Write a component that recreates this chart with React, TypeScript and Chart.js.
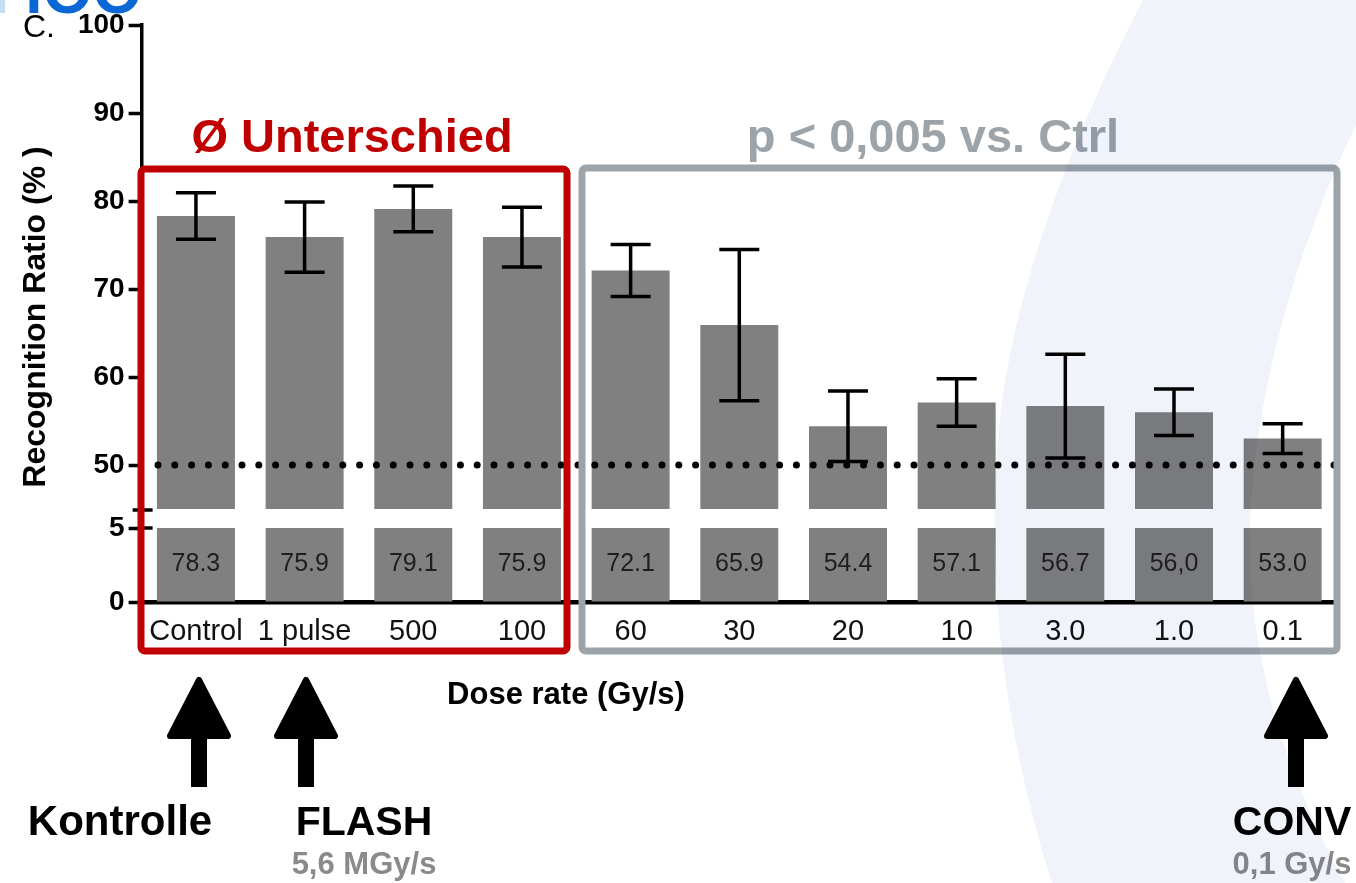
import React, { useEffect, useRef } from 'react';
import { Chart, registerables } from 'chart.js';

Chart.register(...registerables);

// ---------- data ----------
const CATEGORIES = ['Control', '1 pulse', '500', '100', '60', '30', '20', '10', '3.0', '1.0', '0.1'];
const MEANS = [78.3, 75.9, 79.1, 75.9, 72.1, 65.9, 54.4, 57.1, 56.7, 56.0, 53.0];
const SEM = [2.65, 4.0, 2.6, 3.4, 2.95, 8.6, 4.0, 2.7, 5.9, 2.65, 1.7];
const VALUE_LABELS = ['78.3', '75.9', '79.1', '75.9', '72.1', '65.9', '54.4', '57.1', '56.7', '56,0', '53.0'];
const TOP_TICKS = [50, 60, 70, 80, 90, 100];
const BOTTOM_TICKS = [0, 5];
const UPPER_BAR_BASE = 45;
const UPPER_AXIS_MIN = 42.84;
const UPPER_AXIS_MAX = 100;
const LOWER_AXIS_MAX = 5;
const CHANCE_LEVEL = 50;

const FONT = '"Liberation Sans", Arial, Helvetica, sans-serif';

function drawArrow(ctx: CanvasRenderingContext2D, cx: number) {
  ctx.save();
  ctx.fillStyle = '#000';
  ctx.strokeStyle = '#000';
  ctx.lineJoin = 'round';
  ctx.lineWidth = 6;
  ctx.beginPath();
  ctx.moveTo(cx, 680);
  ctx.lineTo(cx + 29, 736);
  ctx.lineTo(cx - 29, 736);
  ctx.closePath();
  ctx.fill();
  ctx.stroke();
  ctx.fillRect(cx - 8, 734, 16, 53);
  ctx.restore();
}

function drawText(
  ctx: CanvasRenderingContext2D,
  s: string,
  x: number,
  y: number,
  font: string,
  color: string,
  align: CanvasTextAlign = 'left'
) {
  ctx.font = font;
  ctx.fillStyle = color;
  ctx.textAlign = align;
  ctx.textBaseline = 'alphabetic';
  ctx.fillText(s, x, y);
}

const overlayPlugin = {
  id: 'overlay',
  afterDatasetsDraw(chart: any) {
    const ctx: CanvasRenderingContext2D = chart.ctx;
    const yTop = chart.scales.yTop;
    const yBot = chart.scales.yBot;
    const meta = chart.getDatasetMeta(0);

    // dotted chance line
    ctx.save();
    ctx.strokeStyle = '#000';
    ctx.lineWidth = 7;
    ctx.lineCap = 'round';
    ctx.setLineDash([0, 16.8]);
    const y50 = yTop.getPixelForValue(CHANCE_LEVEL);
    ctx.beginPath();
    ctx.moveTo(158, y50);
    ctx.lineTo(1345, y50);
    ctx.stroke();
    ctx.restore();

    // error bars
    ctx.save();
    ctx.strokeStyle = '#000';
    ctx.lineWidth = 3.5;
    ctx.lineCap = 'butt';
    MEANS.forEach((m, i) => {
      const x = meta.data[i].x;
      const yh = yTop.getPixelForValue(m + SEM[i]);
      const yl = yTop.getPixelForValue(m - SEM[i]);
      ctx.beginPath();
      ctx.moveTo(x, yh);
      ctx.lineTo(x, yl);
      ctx.moveTo(x - 20, yh);
      ctx.lineTo(x + 20, yh);
      ctx.moveTo(x - 20, yl);
      ctx.lineTo(x + 20, yl);
      ctx.stroke();
    });
    ctx.restore();

    // value labels in lower segment
    ctx.save();
    ctx.font = `25px ${FONT}`;
    ctx.fillStyle = '#1e1e1e';
    ctx.textAlign = 'center';
    ctx.textBaseline = 'middle';
    const yMid = yBot.getPixelForValue(LOWER_AXIS_MAX / 2) - 1;
    VALUE_LABELS.forEach((t, i) => {
      ctx.fillText(t, meta.data[i].x, yMid);
    });
    ctx.restore();
  },
  afterDraw(chart: any) {
    const ctx: CanvasRenderingContext2D = chart.ctx;
    const yTop = chart.scales.yTop;
    const yBot = chart.scales.yBot;
    const axisX = chart.chartArea.left;

    ctx.save();
    // axis break marks
    ctx.strokeStyle = '#000';
    ctx.lineWidth = 3.5;
    const yBreak = yTop.getPixelForValue(UPPER_BAR_BASE) + 1;
    const y5 = yBot.getPixelForValue(LOWER_AXIS_MAX);
    ctx.beginPath();
    ctx.moveTo(axisX - 9, yBreak);
    ctx.lineTo(axisX + 11, yBreak);
    ctx.moveTo(axisX, y5);
    ctx.lineTo(axisX + 11, y5);
    ctx.stroke();

    // boxes
    ctx.lineWidth = 7;
    ctx.strokeStyle = '#c00000';
    ctx.beginPath();
    ctx.roundRect(141, 169, 426, 482, 4);
    ctx.stroke();
    ctx.strokeStyle = '#9ca3a9';
    ctx.beginPath();
    ctx.roundRect(582, 168, 755, 483, 4);
    ctx.stroke();

    // titles
    drawText(ctx, 'Ø Unterschied', 352, 152, `bold 47px ${FONT}`, '#c00000', 'center');
    drawText(ctx, 'p < 0,005 vs. Ctrl', 933, 152, `bold 47px ${FONT}`, '#9ca3a9', 'center');

    // axis titles
    drawText(ctx, 'Dose rate (Gy/s)', 566, 704, `bold 31px ${FONT}`, '#000', 'center');
    ctx.save();
    ctx.translate(45, 317);
    ctx.rotate(-Math.PI / 2);
    drawText(ctx, 'Recognition Ratio (% )', 0, 0, `bold 32px ${FONT}`, '#000', 'center');
    ctx.restore();

    // panel label + logo remnant
    drawText(ctx, 'C.', 23, 37, `32px ${FONT}`, '#000', 'left');
    ctx.fillStyle = '#c5dcf5';
    ctx.fillRect(0, 0, 5, 13);
    drawText(ctx, 'lOO', 25, 13, `bold 64px ${FONT}`, '#0b66d6', 'left');

    // arrows and annotations
    drawArrow(ctx, 199);
    drawArrow(ctx, 306);
    drawArrow(ctx, 1296);
    drawText(ctx, 'Kontrolle', 120, 835, `bold 42px ${FONT}`, '#000', 'center');
    drawText(ctx, 'FLASH', 364, 835, `bold 41px ${FONT}`, '#000', 'center');
    drawText(ctx, '5,6 MGy/s', 364, 874, `bold 31px ${FONT}`, '#8a8a8a', 'center');
    drawText(ctx, 'CONV', 1292, 835, `bold 41px ${FONT}`, '#000', 'center');
    drawText(ctx, '0,1 Gy/s', 1292, 874, `bold 31px ${FONT}`, '#8a8a8a', 'center');

    // background crescent (multiplied over everything)
    ctx.globalCompositeOperation = 'multiply';
    ctx.fillStyle = '#f0f4fa';
    ctx.beginPath();
    ctx.moveTo(1143, 0);
    ctx.lineTo(1356, 0);
    ctx.lineTo(1356, 125);
    ctx.bezierCurveTo(1300, 240, 1250, 400, 1250, 545);
    ctx.bezierCurveTo(1250, 680, 1300, 800, 1345, 883);
    ctx.lineTo(1052, 883);
    ctx.bezierCurveTo(1000, 720, 985, 560, 1000, 420);
    ctx.bezierCurveTo(1015, 280, 1080, 120, 1143, 0);
    ctx.closePath();
    ctx.fill();
    ctx.restore();
  },
};

const yTickStyle = {
  grid: { drawOnChartArea: false, drawTicks: true, tickLength: 13, tickWidth: 3.5, tickColor: '#000' },
  border: { display: true, color: '#000', width: 3.5 },
  ticks: { color: '#000', font: { family: FONT, size: 28, weight: 'bold' as const }, padding: 4 },
};

export default function App() {
  const canvasRef = useRef<HTMLCanvasElement | null>(null);

  useEffect(() => {
    if (!canvasRef.current) return;
    const chart = new Chart(canvasRef.current, {
      type: 'bar',
      data: {
        labels: CATEGORIES,
        datasets: [
          {
            data: MEANS.map((m) => [UPPER_BAR_BASE, m]) as any,
            yAxisID: 'yTop',
            backgroundColor: '#808080',
            borderWidth: 0,
            grouped: false,
            categoryPercentage: 1,
            barPercentage: 0.7176,
          },
          {
            data: CATEGORIES.map(() => [0, LOWER_AXIS_MAX]) as any,
            yAxisID: 'yBot',
            backgroundColor: '#808080',
            borderWidth: 0,
            grouped: false,
            categoryPercentage: 1,
            barPercentage: 0.7176,
          },
        ],
      },
      options: {
        animation: false,
        responsive: false,
        maintainAspectRatio: false,
        layout: { padding: { left: 0, top: 25, right: 19, bottom: 0 } },
        plugins: { legend: { display: false }, tooltip: { enabled: false }, title: { display: false } },
        scales: {
          x: {
            type: 'category',
            offset: true,
            grid: { display: false, drawTicks: false },
            border: { display: true, color: '#000', width: 4.5 },
            ticks: { color: '#111', font: { family: FONT, size: 29 }, padding: 13, maxRotation: 0, autoSkip: false },
            afterFit: (s: any) => {
              s.height = 281;
            },
          },
          yTop: {
            type: 'linear',
            position: 'left',
            stack: 'left',
            stackWeight: 6.8,
            weight: 2,
            min: UPPER_AXIS_MIN,
            max: UPPER_AXIS_MAX,
            afterBuildTicks: (s: any) => {
              s.ticks = TOP_TICKS.map((v) => ({ value: v }));
            },
            afterFit: (s: any) => {
              s.width = 141.6;
            },
            ...yTickStyle,
          },
          yBot: {
            type: 'linear',
            position: 'left',
            stack: 'left',
            stackWeight: 1,
            weight: 1,
            min: 0,
            max: LOWER_AXIS_MAX,
            afterBuildTicks: (s: any) => {
              s.ticks = BOTTOM_TICKS.map((v) => ({ value: v }));
            },
            afterFit: (s: any) => {
              s.width = 141.6;
            },
            ...yTickStyle,
          },
        },
      } as any,
      plugins: [overlayPlugin],
    });
    return () => chart.destroy();
  }, []);

  return (
    <div style={{ position: 'absolute', left: 0, top: 0, width: 1356, height: 883, background: '#fff' }}>
      <canvas ref={canvasRef} width={1356} height={883} style={{ display: 'block', width: 1356, height: 883 }} />
    </div>
  );
}
